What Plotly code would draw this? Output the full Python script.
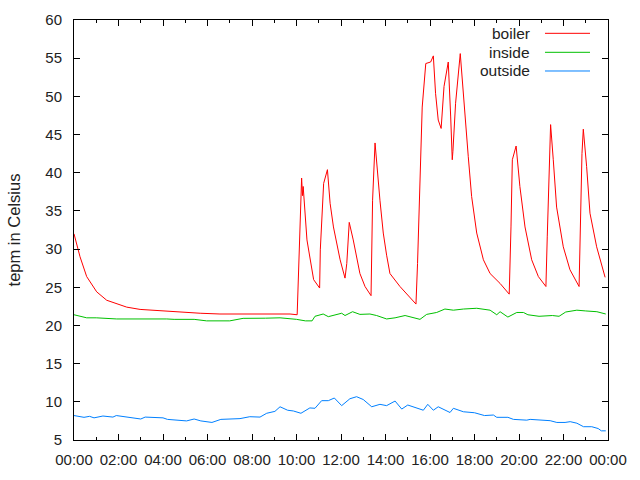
import plotly.graph_objects as go

# ---- data (time in hours since 00:00) ----
boiler_t = [0.0, 0.27, 0.57, 1.02, 1.47, 2.07, 2.37, 2.97, 4.45, 5.67, 6.56, 9.71, 10.03,
            10.1, 10.17, 10.23, 10.27, 10.3, 10.47, 10.77, 11.04, 11.07, 11.22, 11.39, 11.51,
            11.66, 11.96, 12.18, 12.26, 12.37, 12.55, 12.85, 13.08, 13.35, 13.42, 13.53,
            13.75, 13.9, 14.05, 14.2, 14.65, 15.1, 15.37, 15.44, 15.51, 15.58, 15.65, 15.81, 16.03,
            16.15, 16.25, 16.37, 16.5, 16.63, 16.82, 16.93, 17.0, 17.03, 17.15, 17.36, 17.57,
            17.72, 17.87, 18.1, 18.4, 18.7, 19.15, 19.56, 19.64, 19.7, 19.87, 20.04, 20.27,
            20.57, 20.87, 21.21, 21.27, 21.36, 21.42, 21.54, 21.69, 21.99, 22.29, 22.7, 22.76,
            22.83, 22.89, 23.04, 23.19, 23.49, 23.87]
boiler_v = [32.0, 29.0, 26.4, 24.4, 23.3, 22.7, 22.4, 22.1, 21.8, 21.6, 21.5, 21.5, 21.4,
            28.0, 35.0, 39.3, 37.0, 38.2, 31.2, 26.0, 24.9, 29.9, 38.6, 40.4, 36.0,
            32.9, 28.6, 26.2, 28.1, 33.5, 31.2, 26.8, 25.1, 23.9, 36.4, 43.9,
            36.4, 32.1, 29.2, 26.8, 25.1, 23.6, 22.8, 28.1, 35.1, 42.5, 48.6, 54.3, 54.5,
            55.3, 50.4, 46.9, 45.8, 51.3, 54.5, 47.3, 41.7, 42.8, 49.1, 55.6, 47.3,
            42.1, 36.9, 32.1, 28.6, 26.8, 25.5, 24.1, 32.9, 41.7, 43.5, 38.2, 32.9,
            28.6, 26.4, 25.1, 31.6, 42.5, 46.3, 41.7, 35.5, 30.3, 27.3, 25.1, 33.8,
            42.5, 45.7, 40.8, 34.7, 30.3, 26.3]

inside_t = [0.0, 0.57, 1.0, 1.92, 4.17, 4.5, 5.4, 5.96, 7.0, 7.6, 8.6, 9.26, 10.0, 10.4,
            10.7, 10.83, 11.2, 11.43, 12.03, 12.18, 12.52, 12.85, 13.3, 13.6, 14.05, 14.43,
            14.88, 15.1, 15.55, 15.85, 16.3, 16.67, 17.05, 17.5, 18.1, 18.7, 19.0, 19.15,
            19.5, 19.9, 20.2, 20.4, 20.9, 21.5, 21.8, 22.1, 22.6, 23.0, 23.5, 23.9]
inside_v = [21.4, 21.0, 21.0, 20.85, 20.85, 20.8, 20.8, 20.6, 20.6, 20.93, 20.95, 21.0, 20.8, 20.6,
            20.6, 21.2, 21.5, 21.15, 21.6, 21.3, 21.8, 21.45, 21.5, 21.3, 20.85, 21.0,
            21.3, 21.15, 20.8, 21.45, 21.7, 22.15, 22.0, 22.15, 22.25, 22.0, 21.4, 21.8,
            21.1, 21.7, 21.7, 21.4, 21.2, 21.3, 21.2, 21.76, 22.0, 21.9, 21.8, 21.5]

outside_t = [0.0, 0.45, 0.7, 0.9, 1.3, 1.75, 1.9, 2.5, 3.0, 3.2, 4.0, 4.2, 5.06, 5.4, 5.7,
             6.2, 6.6, 7.46, 7.9, 8.36, 8.66, 9.03, 9.26, 9.6, 9.86, 10.2, 10.6, 10.83,
             11.13, 11.43, 11.7, 12.03, 12.4, 12.7, 13.0, 13.38, 13.75, 14.05, 14.43, 14.73,
             15.0, 15.7, 15.9, 16.15, 16.37, 16.9, 17.05, 17.5, 18.0, 18.45, 18.85, 19.0,
             19.5, 19.75, 20.35, 20.5, 20.95, 21.4, 21.7, 22.07, 22.3, 22.6, 22.9, 23.27,
             23.56, 23.7, 23.9]
outside_v = [8.2, 7.97, 8.1, 7.9, 8.14, 8.0, 8.2, 8.0, 7.75, 8.0, 7.9, 7.7, 7.5, 7.75, 7.5,
             7.3, 7.7, 7.8, 8.05, 8.0, 8.5, 8.75, 9.35, 8.9, 8.8, 8.5, 9.2, 9.15,
             10.15, 10.15, 10.5, 9.5, 10.4, 10.67, 10.3, 9.35, 9.67, 9.5, 10.1, 9.05,
             9.58, 8.9, 9.67, 8.9, 9.35, 8.6, 9.15, 8.7, 8.57, 8.2, 8.27, 7.97,
             7.97, 7.7, 7.6, 7.7, 7.6, 7.53, 7.3, 7.3, 7.4, 7.2, 6.74, 6.74,
             6.5, 6.2, 6.2]

series_names = ["boiler", "inside", "outside"]
series_colors = ["#ff0000", "#00c000", "#0080ff"]

x_tickvals = list(range(0, 25, 2))
x_ticktext = ["00:00", "02:00", "04:00", "06:00", "08:00", "10:00", "12:00",
              "14:00", "16:00", "18:00", "20:00", "22:00", "00:00"]
y_tickvals = list(range(5, 61, 5))

FONT = "Liberation Sans, Arial, sans-serif"

fig = go.Figure()
for name, t, v, c in zip(series_names, [boiler_t, inside_t, outside_t],
                         [boiler_v, inside_v, outside_v], series_colors):
    fig.add_trace(go.Scatter(x=t, y=v, mode="lines", name=name,
                             line=dict(color=c, width=1), showlegend=False))

# gnuplot-style key: right-aligned text, sample line on the right
rows_y = [0.9683, 0.9231, 0.8786]
for name, c, yy in zip(series_names, series_colors, rows_y):
    fig.add_annotation(x=0.8577, y=yy, xref="paper", yref="paper", text=name,
                       showarrow=False, xanchor="right", yanchor="middle",
                       font=dict(family=FONT, size=15.5, color="#222222"))
    fig.add_shape(type="line", xref="paper", yref="paper", x0=0.882, x1=0.9663,
                  y0=yy, y1=yy, line=dict(color=c, width=1))

fig.update_layout(
    width=640, height=480,
    margin=dict(l=74, r=32, t=20, b=40),
    paper_bgcolor="white", plot_bgcolor="white",
    font=dict(family=FONT, size=15, color="#222222"),
)
fig.update_xaxes(range=[0, 24], tickvals=x_tickvals, ticktext=x_ticktext,
                 ticks="inside", ticklen=6, tickcolor="black", tickwidth=1,
                 minor=dict(dtick=1, ticks="inside", ticklen=3, tickcolor="black"),
                 showline=True, linecolor="black", linewidth=1, mirror="allticks",
                 showgrid=False, zeroline=False, ticklabelstandoff=6)
fig.update_yaxes(range=[5, 60], tickvals=y_tickvals,
                 ticks="inside", ticklen=6, tickcolor="black", tickwidth=1,
                 showline=True, linecolor="black", linewidth=1, mirror="allticks",
                 showgrid=False, zeroline=False, ticklabelstandoff=8,
                 title=dict(text="tepm in Celsius", standoff=20,
                            font=dict(family=FONT, size=16.5, color="#222222")))

fig.write_html("out.html")
